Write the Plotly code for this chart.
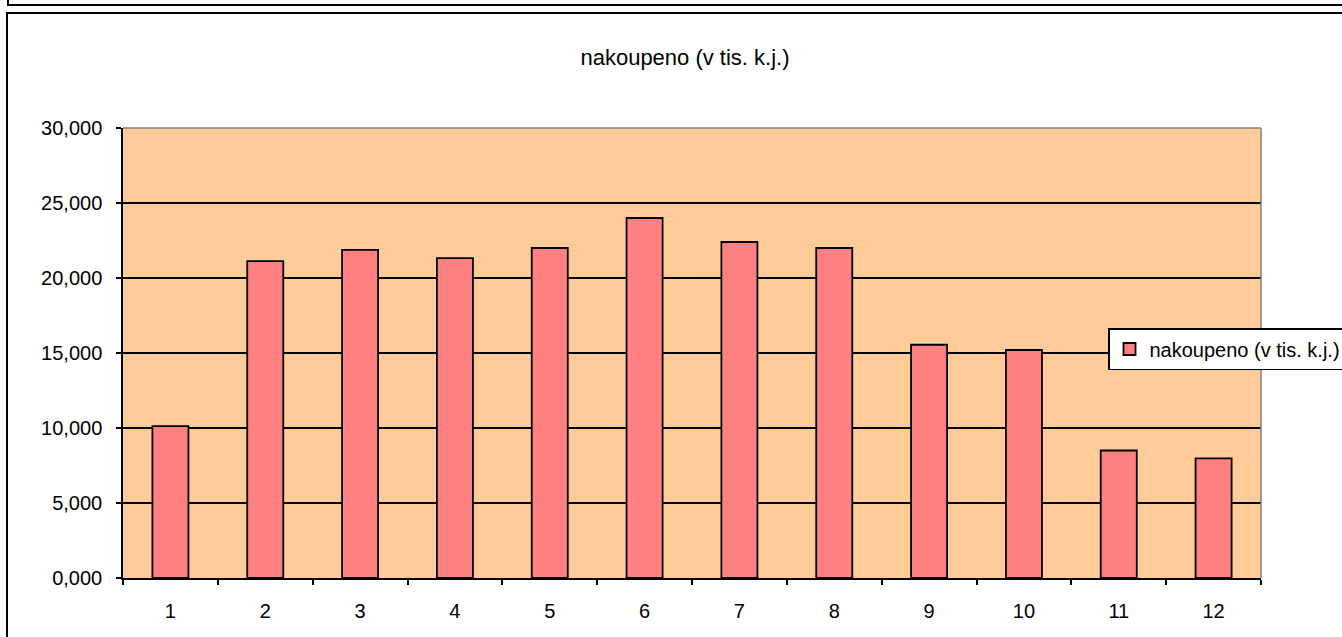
import plotly.graph_objects as go

categories = ["1", "2", "3", "4", "5", "6", "7", "8", "9", "10", "11", "12"]
values = [10.13, 21.13, 21.87, 21.33, 22.0, 24.0, 22.4, 22.0, 15.55, 15.2, 8.5, 7.98]
series_name = "nakoupeno (v tis. k.j.)"
title_text = "nakoupeno (v tis. k.j.)"
y_ticks = [0, 5, 10, 15, 20, 25, 30]

W, H = 1342, 637
L, R, T, B = 123, 1261, 128, 578
pw, ph = R - L, B - T

def px(x):
    return (x - L) / pw

def py(y):
    return (B - y) / ph

FONT = "Liberation Sans, Arial, sans-serif"

fig = go.Figure()
fig.add_trace(go.Bar(
    x=categories, y=values, name=series_name,
    marker=dict(color="#FF8080", line=dict(color="black", width=1.8)),
    showlegend=True,
))

fig.update_layout(
    width=W, height=H,
    margin=dict(l=L, r=W - R, t=T, b=H - B, autoexpand=False),
    paper_bgcolor="white",
    plot_bgcolor="#FFCC99",
    separators=", ",
    font=dict(family=FONT, size=20, color="black"),
    bargap=0.62,
    title=dict(text=title_text, x=685 / W, xanchor="center", xref="container",
               y=1 - 57 / H, yanchor="middle", yref="container",
               font=dict(family=FONT, size=22, color="black")),
    showlegend=True,
    legend=dict(x=px(1108), xanchor="left", y=py(349), yanchor="middle",
                bgcolor="white", bordercolor="black", borderwidth=1.5,
                font=dict(family=FONT, size=20, color="black"),
                itemwidth=30, tracegroupgap=0),
    xaxis=dict(type="category", showline=True, linecolor="black", linewidth=1.5,
               ticks="outside", tickson="boundaries", ticklen=5, tickcolor="black",
               tickwidth=1.5,
               showgrid=False, zeroline=False, ticklabelstandoff=14,
               tickfont=dict(family=FONT, size=20, color="black")),
    yaxis=dict(range=[0, 30], tickvals=y_ticks, tickformat=".3f",
               showline=True, linecolor="black", linewidth=1.5,
               ticks="outside", ticklen=5, tickcolor="black", tickwidth=1.5,
               showgrid=True, gridcolor="black", gridwidth=1.5, zeroline=False,
               ticklabelstandoff=10,
               tickfont=dict(family=FONT, size=20, color="black")),
    shapes=[
        # grey top & right plot border
        dict(type="line", xref="paper", yref="paper", x0=0, x1=1, y0=1, y1=1,
             line=dict(color="#808080", width=1.5)),
        dict(type="line", xref="paper", yref="paper", x0=1, x1=1, y0=0, y1=1,
             line=dict(color="#808080", width=1.5)),
        # previous chart frame (bottom-left corner visible)
        dict(type="rect", xref="paper", yref="paper",
             x0=px(8), x1=px(1400), y0=py(5), y1=py(-50),
             line=dict(color="black", width=2)),
        # this chart frame
        dict(type="rect", xref="paper", yref="paper",
             x0=px(7), x1=px(1400), y0=py(13), y1=py(700),
             line=dict(color="black", width=2)),
    ],
)

fig.write_html(
    "out.html",
    config={"displayModeBar": False},
    post_script="document.body.style.margin='0';document.body.style.overflow='hidden';",
)
